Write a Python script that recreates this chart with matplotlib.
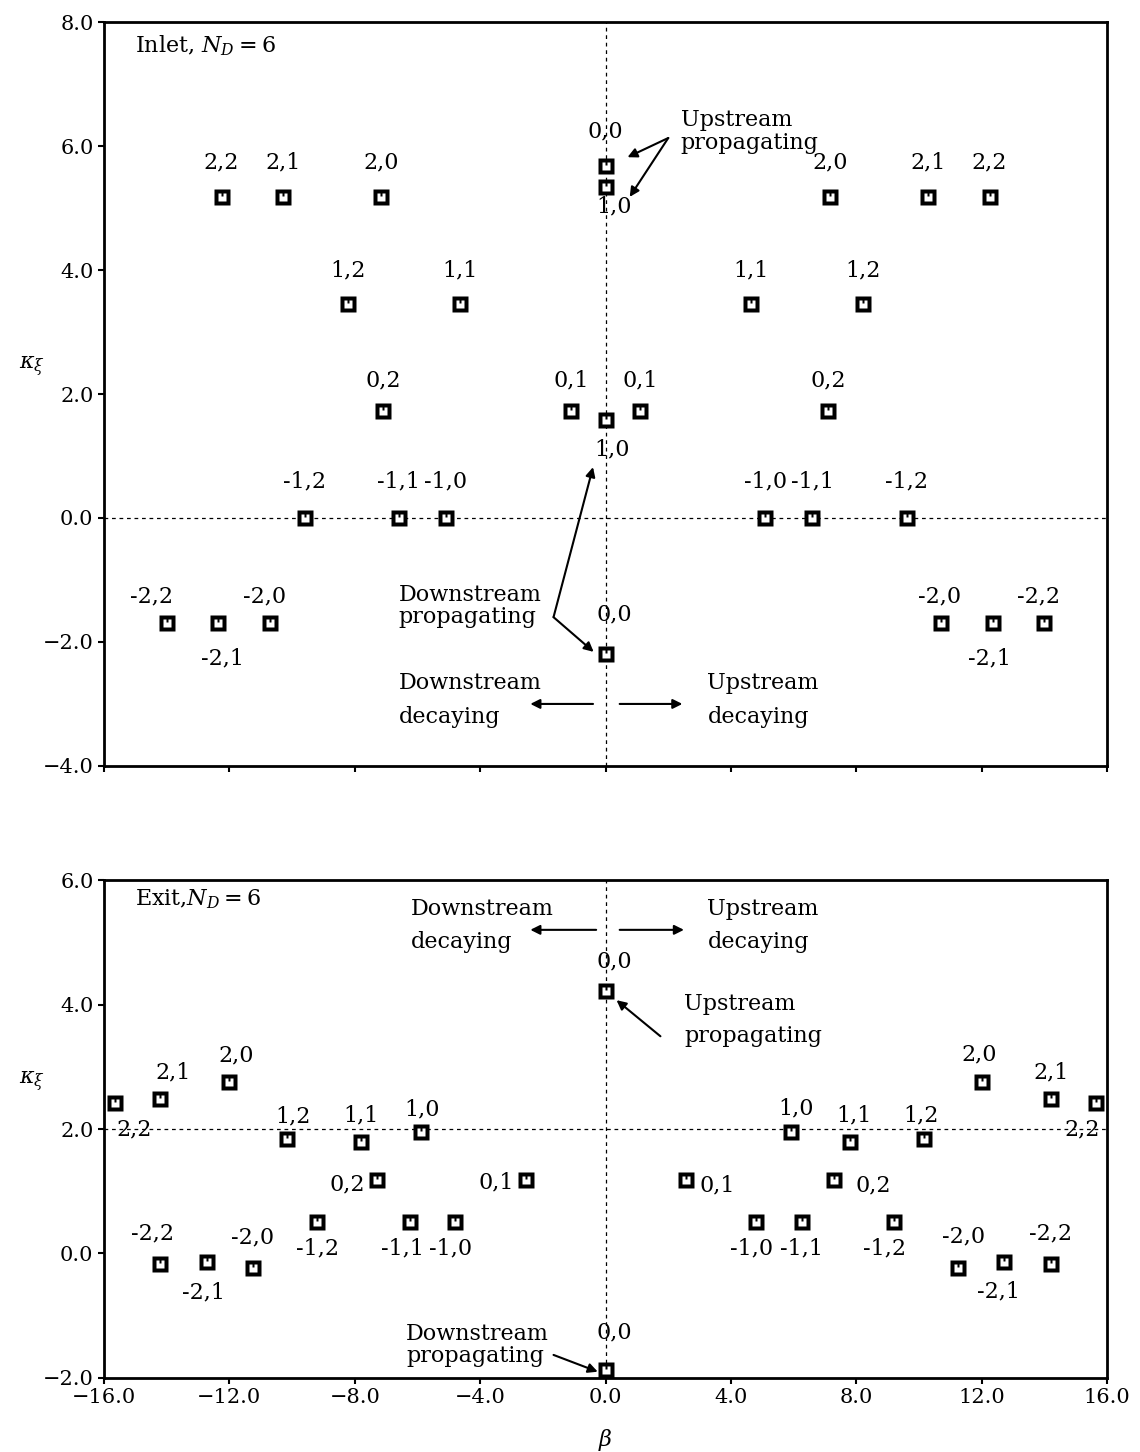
import matplotlib
matplotlib.use("Agg")
import matplotlib.pyplot as plt
from matplotlib.path import Path
from matplotlib.ticker import FuncFormatter

plt.rcParams['font.family'] = ['DejaVu Serif']
plt.rcParams['mathtext.fontset'] = 'dejavuserif'

# ---- inlet (top panel) ----
inlet_modes = ["2,2", "2,1", "2,0", "2,0", "2,1", "2,2",
               "0,0", "1,0",
               "1,2", "1,1", "1,1", "1,2",
               "0,2", "0,1", "1,0", "0,1", "0,2",
               "-1,2", "-1,1", "-1,0", "-1,0", "-1,1", "-1,2",
               "-2,2", "-2,1", "-2,0", "-2,0", "-2,1", "-2,2",
               "0,0"]
inlet_beta = [-12.25, -10.3, -7.15, 7.15, 10.3, 12.25,
              0.0, 0.0,
              -8.2, -4.65, 4.65, 8.2,
              -7.1, -1.1, 0.0, 1.1, 7.1,
              -9.6, -6.6, -5.1, 5.1, 6.6, 9.6,
              -14.0, -12.35, -10.7, 10.7, 12.35, 14.0,
              0.0]
inlet_kappa = [5.18, 5.18, 5.18, 5.18, 5.18, 5.18,
               5.68, 5.34,
               3.45, 3.45, 3.45, 3.45,
               1.73, 1.73, 1.58, 1.73, 1.73,
               0.0, 0.0, 0.0, 0.0, 0.0, 0.0,
               -1.69, -1.69, -1.69, -1.69, -1.69, -1.69,
               -2.19]

# ---- exit (bottom panel) ----
exit_modes = ["0,0",
              "2,2", "2,1", "2,0", "1,2", "1,1", "1,0", "0,2", "0,1",
              "-1,2", "-1,1", "-1,0", "-2,2", "-2,1", "-2,0",
              "2,2", "2,1", "2,0", "1,2", "1,1", "1,0", "0,2", "0,1",
              "-1,2", "-1,1", "-1,0", "-2,2", "-2,1", "-2,0",
              "0,0"]
exit_beta = [0.0,
             -15.65, -14.2, -12.0, -10.15, -7.8, -5.9, -7.3, -2.55,
             -9.2, -6.25, -4.8, -14.2, -12.7, -11.25,
             15.65, 14.2, 12.0, 10.15, 7.8, 5.9, 7.3, 2.55,
             9.2, 6.25, 4.8, 14.2, 12.7, 11.25,
             0.0]
exit_kappa = [4.22,
              2.42, 2.48, 2.75, 1.84, 1.79, 1.95, 1.18, 1.18,
              0.51, 0.51, 0.51, -0.17, -0.14, -0.24,
              2.42, 2.48, 2.75, 1.84, 1.79, 1.95, 1.18, 1.18,
              0.51, 0.51, 0.51, -0.17, -0.14, -0.24,
              -1.87]

# label offsets (points) for each mode label
inlet_off = [(0, 25), (0, 25), (0, 25), (0, 25), (0, 25), (0, 25),
             (0, 25), (6, -14),
             (0, 24), (0, 24), (0, 24), (0, 24),
             (0, 22), (0, 22), (5, -21), (0, 22), (0, 22),
             (0, 26), (0, 26), (0, 26), (0, 26), (0, 26), (0, 26),
             (-11, 19), (3, -26), (-4, 19), (-1, 19), (-2, -26), (-4, 19),
             (6, 28)]
exit_off = [(6, 21),
            (14, -19), (9, 19), (5, 19), (4, 16), (0, 19), (1, 16), (-21, -3), (-21, -2),
            (0, -19), (-5, -19), (-3, -19), (-6, 22), (-3, -22), (0, 22),
            (-10, -19), (0, 19), (-2, 20), (-2, 17), (3, 19), (4, 17), (28, -4), (23, -4),
            (-7, -19), (0, -19), (-3, -19), (0, 22), (-4, -21), (4, 23),
            (6, 27)]

# square marker with a small tab inside (hole shaped like a U)
outer = [(-1, -1), (1, -1), (1, 1), (-1, 1), (-1, -1)]
hole = [(-0.5, -0.5), (-0.5, 0.5), (-0.14, 0.5), (-0.14, 0.1),
        (0.14, 0.1), (0.14, 0.5), (0.5, 0.5), (0.5, -0.5), (-0.5, -0.5)]
verts = outer + hole
codes = ([Path.MOVETO] + [Path.LINETO] * 3 + [Path.CLOSEPOLY] +
         [Path.MOVETO] + [Path.LINETO] * 7 + [Path.CLOSEPOLY])
box = Path(verts, codes)

FS = 16
FA = 16


def fmt(v, pos):
    return ('%.1f' % v).replace('-', '\u2212')


def draw_panel(ax, beta, kappa, modes, offs, yline):
    ax.axvline(0, color='k', ls=(0, (3, 3)), lw=0.9, zorder=1)
    ax.axhline(yline, color='k', ls=(0, (3, 3)), lw=0.9, zorder=1)
    ax.plot(beta, kappa, 's', ms=10, mfc='white', mec='none', zorder=3)
    ax.plot(beta, kappa, ls='none', marker=box, ms=11.5, mfc='k', mec='none', zorder=4)
    for b, k, m, o in zip(beta, kappa, modes, offs):
        ax.annotate(m, (b, k), xytext=o, textcoords='offset points',
                    ha='center', va='center', fontsize=FS, zorder=5)
    ax.set_xlim(-16, 16)
    ax.set_xticks(range(-16, 17, 4))
    ax.xaxis.set_major_formatter(FuncFormatter(fmt))
    ax.yaxis.set_major_formatter(FuncFormatter(fmt))
    ax.tick_params(direction='out', length=4, width=1.5, labelsize=15,
                   top=False, right=False)
    for s in ax.spines.values():
        s.set_linewidth(2)
    ax.set_ylabel(r'$\kappa_\xi$', rotation=0, fontsize=FS)


def note(ax, x, y, s, ha, ls):
    ax.text(x, y, s, fontsize=FA, va='center', ha=ha, multialignment='left', linespacing=ls)


arrow = dict(arrowstyle='-|>', color='k', lw=1.5, mutation_scale=14, shrinkA=0, shrinkB=0)

fig = plt.figure(figsize=(11.4, 14.52), dpi=100)
ax1 = fig.add_axes([0.0912, 0.4725, 0.880, 0.5123])
ax2 = fig.add_axes([0.0912, 0.0510, 0.880, 0.3429])

# top panel
draw_panel(ax1, inlet_beta, inlet_kappa, inlet_modes, inlet_off, 0.0)
ax1.set_ylim(-4, 8)
ax1.set_yticks(range(-4, 9, 2))
ax1.tick_params(axis='x', labelbottom=False)
ax1.yaxis.set_label_coords(-0.072, 0.52)
ax1.text(-15.0, 7.62, r'Inlet, $N_D=6$', fontsize=FA, va='center', ha='left')
note(ax1, 2.4, 6.24, 'Upstream\npropagating', 'left', 1.05)
ax1.annotate('', xy=(0.7, 5.82), xytext=(2.0, 6.13), arrowprops=arrow)
ax1.annotate('', xy=(0.77, 5.18), xytext=(2.0, 6.13), arrowprops=arrow)
note(ax1, -2.05, -1.42, 'Downstream\npropagating', 'right', 1.0)
ax1.annotate('', xy=(-0.4, 0.82), xytext=(-1.66, -1.6), arrowprops=arrow)
ax1.annotate('', xy=(-0.38, -2.16), xytext=(-1.66, -1.6), arrowprops=arrow)
note(ax1, -2.05, -2.93, 'Downstream\ndecaying', 'right', 1.7)
note(ax1, 3.25, -2.93, 'Upstream\ndecaying', 'left', 1.7)
ax1.annotate('', xy=(-2.4, -3.0), xytext=(-0.4, -3.0), arrowprops=arrow)
ax1.annotate('', xy=(2.45, -3.0), xytext=(0.45, -3.0), arrowprops=arrow)

# bottom panel
draw_panel(ax2, exit_beta, exit_kappa, exit_modes, exit_off, 2.0)
ax2.set_ylim(-2, 6)
ax2.set_yticks(range(-2, 7, 2))
ax2.yaxis.set_label_coords(-0.072, 0.57)
ax2.set_xlabel(r'$\beta$', fontsize=FS, labelpad=14)
ax2.text(-15.0, 5.7, r'Exit,$N_D=6$', fontsize=FA, va='center', ha='left')
note(ax2, -1.66, 5.27, 'Downstream\ndecaying', 'right', 1.7)
note(ax2, 3.25, 5.27, 'Upstream\ndecaying', 'left', 1.7)
ax2.annotate('', xy=(-2.4, 5.2), xytext=(-0.3, 5.2), arrowprops=arrow)
ax2.annotate('', xy=(2.5, 5.2), xytext=(0.45, 5.2), arrowprops=arrow)
note(ax2, 2.5, 3.75, 'Upstream\npropagating', 'left', 1.6)
ax2.annotate('', xy=(0.35, 4.07), xytext=(1.75, 3.49), arrowprops=arrow)
note(ax2, -1.8, -1.47, 'Downstream\npropagating', 'right', 1.0)
ax2.annotate('', xy=(-0.25, -1.9), xytext=(-1.66, -1.63), arrowprops=arrow)

fig.savefig('out.png', dpi=100)
